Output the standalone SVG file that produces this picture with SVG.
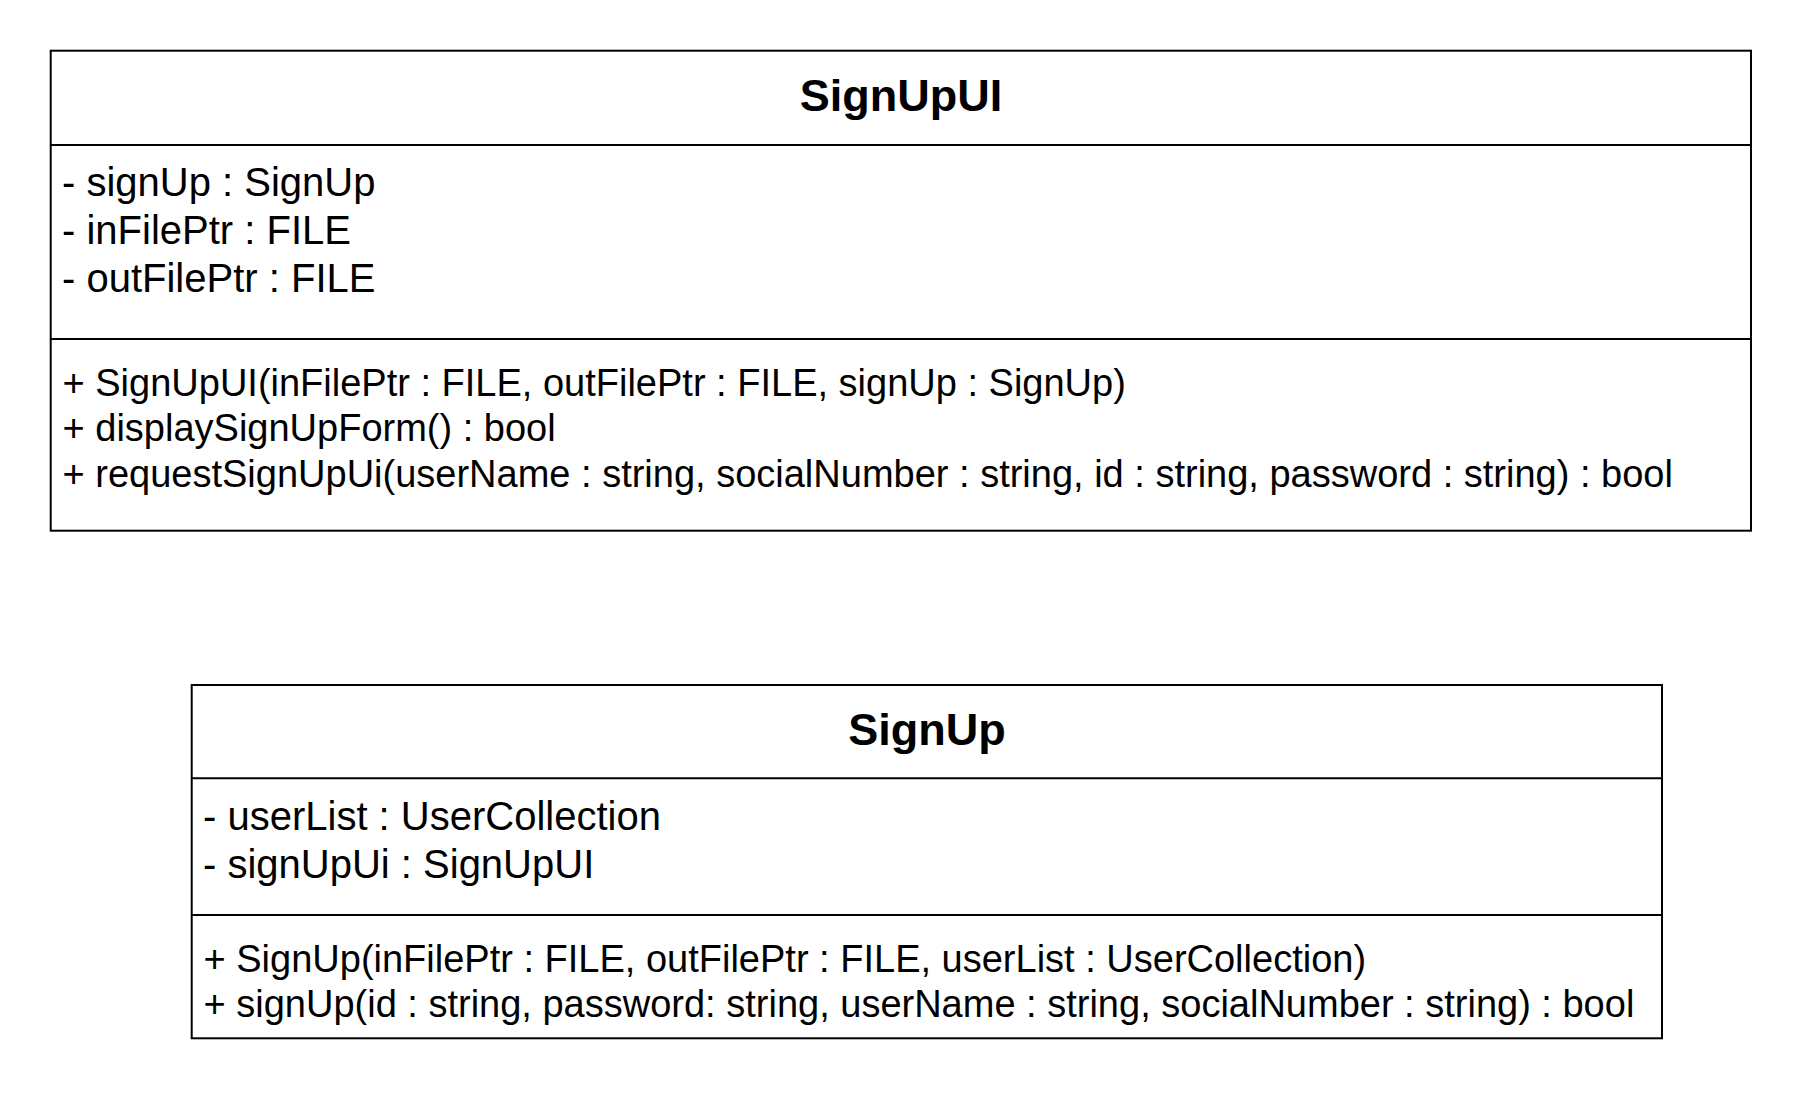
<svg xmlns="http://www.w3.org/2000/svg" width="1802" height="1096" viewBox="0 0 1802 1096">
  <style>
    .box { fill: #ffffff; stroke: #000000; stroke-width: 2; }
    .sep { stroke: #000000; stroke-width: 2; }
    .title { font-family: "Liberation Sans", Arial, Helvetica, sans-serif; font-size: 45px; font-weight: bold; fill: #000000; text-anchor: middle; }
    .item { font-family: "Liberation Sans", Arial, Helvetica, sans-serif; font-size: 38px; fill: #000000; }
    .attr { font-family: "Liberation Sans", Arial, Helvetica, sans-serif; font-size: 40px; fill: #000000; }
  </style>
  <rect x="0" y="0" width="1802" height="1096" fill="#ffffff"/>
  <g id="SignUpUI">
    <rect class="box" x="50.7" y="50.7" width="1700.3" height="480"/>
    <line class="sep" x1="50.7" y1="145" x2="1751" y2="145"/>
    <line class="sep" x1="50.7" y1="339" x2="1751" y2="339"/>
    <text class="title" x="901" y="110.5">SignUpUI</text>
    <text class="attr" x="62" y="196">- signUp : SignUp</text>
    <text class="attr" x="62" y="244">- inFilePtr : FILE</text>
    <text class="attr" x="62" y="292">- outFilePtr : FILE</text>
    <text class="item" x="62.5" y="395.5">+ SignUpUI(inFilePtr : FILE, outFilePtr : FILE, signUp : SignUp)</text>
    <text class="item" x="62.5" y="441.1">+ displaySignUpForm() : bool</text>
    <text class="item" x="62.5" y="486.7">+ requestSignUpUi(userName : string, socialNumber : string, id : string, password : string) : bool</text>
  </g>
  <g id="SignUp">
    <rect class="box" x="191.7" y="685" width="1470.3" height="353.3"/>
    <line class="sep" x1="191.7" y1="778.3" x2="1662" y2="778.3"/>
    <line class="sep" x1="191.7" y1="915" x2="1662" y2="915"/>
    <text class="title" x="926.9" y="745">SignUp</text>
    <text class="attr" x="203" y="830">- userList : UserCollection</text>
    <text class="attr" x="203" y="878">- signUpUi : SignUpUI</text>
    <text class="item" x="203.5" y="971.5">+ SignUp(inFilePtr : FILE, outFilePtr : FILE, userList : UserCollection)</text>
    <text class="item" x="203.5" y="1017">+ signUp(id : string, password: string, userName : string, socialNumber : string) : bool</text>
  </g>
  <g id="connectors"/>
</svg>
